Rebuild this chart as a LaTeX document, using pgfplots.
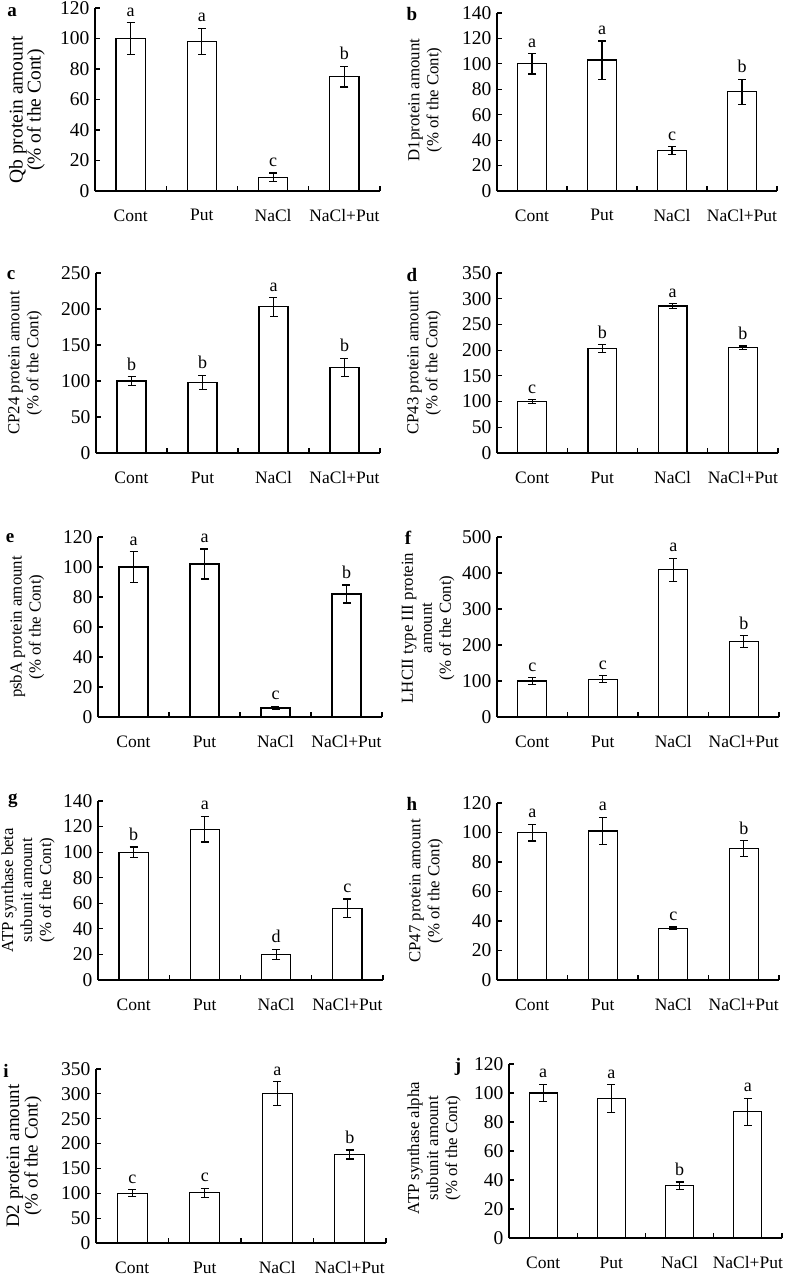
\documentclass[border=0pt]{standalone}
\usepackage{fontspec}
\setmainfont{Liberation Serif}
\usepackage{pgfplots}
\usepackage{pgfplotstable}
\pgfplotsset{compat=1.18}

% x y e top lab  (mean, error, top of error bar, letter)
\pgfplotstableread{
x y e top lab
0 100 10.5 110.5 a
1 98 8.7 106.7 a
2 9 2.8 11.8 c
3 75 6.8 81.8 b
}\dataa
\pgfplotstableread{
x y e top lab
0 100 8 108 a
1 103 15 118 a
2 32 3 35 c
3 78 10 88 b
}\datab
\pgfplotstableread{
x y e top lab
0 100 6 106 b
1 98 10 108 b
2 203 13 216 a
3 119 12.5 131.5 b
}\datac
\pgfplotstableread{
x y e top lab
0 100 4 104 c
1 203 8 211 b
2 286 4.5 290.5 a
3 205 3 208 b
}\datad
\pgfplotstableread{
x y e top lab
0 100 10.3 110.3 a
1 102 10 112 a
2 6 1.2 7.2 c
3 82 6 88 b
}\datae
\pgfplotstableread{
x y e top lab
0 100 9 109 c
1 105 10 115 c
2 409 32 441 a
3 210 16 226 b
}\dataf
\pgfplotstableread{
x y e top lab
0 100 4 104 b
1 118 10 128 a
2 20 4 24 d
3 56 7.3 63.3 c
}\datag
\pgfplotstableread{
x y e top lab
0 100 5.7 105.7 a
1 101 9.3 110.3 a
2 35 1 36 c
3 89 5.4 94.4 b
}\datah
\pgfplotstableread{
x y e top lab
0 100 7 107 c
1 101 9 110 c
2 301 24 325 a
3 178 9 187 b
}\datai
\pgfplotstableread{
x y e top lab
0 100 6 106 a
1 96 9.7 105.7 a
2 36 2.7 38.7 b
3 87 9.4 96.4 a
}\dataj

\newcommand{\fs}{\fontsize{18}{18}\selectfont}

\pgfplotsset{
  panel/.style={
    scale only axis, clip=false,
    axis x line*=bottom, axis y line*=left,
    axis line style={line width=1.2pt, -},
    xmin=-0.5, xmax=3.5, ymin=0,
    xtick={0,1,2,3}, xticklabels={Cont,Put,NaCl,NaCl+Put},
    minor xtick={-0.5,0.5,1.5,2.5,3.5},
    major x tick style={draw=none},
    tick align=inside, major tick length=5pt, minor tick length=5pt,
    tick style={line width=1.2pt, black},
    xticklabel style={font=\fontsize{17.5}{17.5}\selectfont, yshift=-15pt},
    yticklabel style={font=\fontsize{19.5}{19.5}\selectfont, xshift=-2pt},
    /pgf/number format/assume math mode=true,
  },
}

% #1 left, #2 bottom, #3 width, #4 height, #5 ymax, #6 step, #7 data
\newcommand{\panel}[7]{%
\begin{axis}[panel, at={(#1pt,-#2pt)}, anchor=south west,
    width=#3pt, height=#4pt, ymax=#5, ytick distance=#6]
\addplot[ybar, bar width=0.41, bar shift=0pt, fill=white, draw=black,
    line width=1.2pt,
    error bars/.cd, y dir=both, y explicit,
    error bar style={line width=1.2pt},
    error mark options={rotate=90, mark size=4pt, line width=1.2pt}]
    table[x=x, y=y, y error=e] {#7};
\addplot[draw=none, nodes near coords, point meta=explicit symbolic,
    nodes near coords style={anchor=south, inner sep=0pt, yshift=6pt, font=\fs}]
    table[x=x, y=top, meta=lab] {#7};
\end{axis}}

\begin{document}
\begin{tikzpicture}
\useasboundingbox (0,0) rectangle (787pt,-1278pt);
\panel{95}{191}{285}{183}{120}{20}{\dataa}
\panel{497}{191}{280}{178}{140}{20}{\datab}
\panel{96}{453}{284}{180}{250}{50}{\datac}
\panel{497}{453}{281}{180}{350}{50}{\datad}
\panel{98}{717}{284}{180}{120}{20}{\datae}
\panel{497}{717}{282}{180}{500}{100}{\dataf}
\panel{98}{980}{285}{179}{140}{20}{\datag}
\panel{497}{980}{282}{177}{120}{20}{\datah}
\panel{96}{1243}{290}{174}{350}{50}{\datai}
\panel{509}{1238}{273}{174}{120}{20}{\dataj}

\begin{scope}[every node/.style={rotate=90, align=center, font=\fontsize{16.8}{19}\selectfont}]
\node[font=\fontsize{19.5}{18}\selectfont] at (27pt,-110pt) {Qb protein amount\\(\% of the Cont)};
\node at (425pt,-100pt) {D1protein amount\\(\% of the Cont)};
\node at (25pt,-363pt) {CP24 protein amount\\(\% of the Cont)};
\node at (424pt,-363pt) {CP43 protein amount\\(\% of the Cont)};
\node at (27pt,-627pt) {psbA protein amount\\(\% of the Cont)};
\node at (428pt,-628pt) {LHCII type III protein\\amount\\(\% of the Cont)};
\node at (28pt,-890pt) {ATP synthase beta\\subunit amount\\(\% of the Cont)};
\node at (426pt,-891pt) {CP47 protein amount\\(\% of the Cont)};
\node[font=\fontsize{19}{18.5}\selectfont] at (24pt,-1156pt) {D2 protein amount\\(\% of the Cont)};
\node at (434pt,-1148pt) {ATP synthase alpha\\subunit amount\\(\% of the Cont)};
\end{scope}

\begin{scope}[every node/.style={font=\bfseries\fontsize{19}{19}\selectfont}]
\node at (12pt,-12pt) {a};
\node at (412pt,-14pt) {b};
\node at (11pt,-275pt) {c};
\node at (412pt,-275pt) {d};
\node at (10pt,-538pt) {e};
\node at (408pt,-538pt) {f};
\node at (13pt,-801pt) {g};
\node at (412pt,-804pt) {h};
\node at (6pt,-1071pt) {i};
\node at (458pt,-1067pt) {j};
\end{scope}
\end{tikzpicture}
\end{document}
